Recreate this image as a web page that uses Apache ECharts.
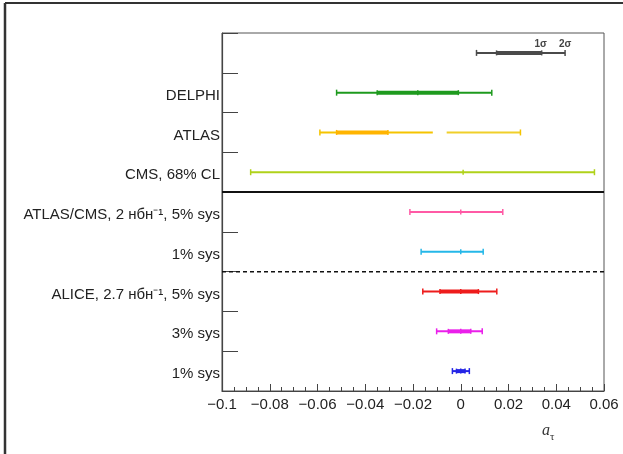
<!DOCTYPE html>
<html>
<head>
<meta charset="utf-8">
<script src="https://cdn.jsdelivr.net/npm/echarts@6/dist/echarts.min.js"></script>
<style>
html,body{margin:0;padding:0;background:#fff;}
#chart{width:623px;height:454px;}
</style>
</head>
<body>
<div id="chart"></div>
<script>
// ---- data ----
const categories = ['', 'DELPHI', 'ATLAS', 'CMS, 68% CL', 'ATLAS/CMS, 2 нбн⁻¹, 5% sys', '1% sys', 'ALICE, 2.7 нбн⁻¹, 5% sys', '3% sys', '1% sys'];
const outerLow  = [0.0066, -0.052, -0.059, -0.088, -0.0213, -0.0166, -0.0159, -0.0101, -0.0035];
const outerHigh = [0.0437,  0.013,  0.025,  0.056,  0.0176,  0.0094,  0.0151,  0.0090,  0.0036];
const innerLow  = [0.015, -0.035, -0.052, null, null, null, -0.0087, -0.0052, -0.0018];
const innerHigh = [0.0339, -0.001, -0.0305, null, null, null, 0.0074, 0.0042, 0.0018];
const centralValue = [null, -0.018, null, 0.001, 0, 0, 0, 0, 0];
const atlasGap = [-0.0117, -0.0059];       // excluded region inside ATLAS interval (row 2)
const legendLabels = ['1σ', '2σ'];
const separatorAfterRow = [3, 5];           // solid after CMS, dashed after 1% sys
const xTickMin = -0.1, xTickMax = 0.06, xTickStep = 0.02;

const rowColors = ['#4a4a4a', '#1e9a1e', '#f5c400', '#b0d21a', '#ff5aa5', '#25b7e8', '#ee1c1c', '#ea1fea', '#2424e6'];
const innerColors = ['#4a4a4a', '#1e9a1e', '#ffb400', '#b0d21a', '#ff5aa5', '#25b7e8', '#ee1c1c', '#ea1fea', '#2424e6'];

const chart = echarts.init(document.getElementById('chart'), null, {renderer: 'canvas'});

function barItem(params, api) {
  const row = api.value(2);
  const lo = api.value(0), hi = api.value(1);
  const band = api.size([0, 1])[1];
  const col = rowColors[row];
  const children = [];
  const p1 = api.coord([lo, row]);
  const y = p1[1];
  const capH = 3;
  const lw = 2;
  function seg(a, b, w, c) {
    const pa = api.coord([a, row]), pb = api.coord([b, row]);
    children.push({type: 'line', shape: {x1: pa[0], y1: y, x2: pb[0], y2: y}, style: {stroke: c, lineWidth: w}});
  }
  function cap(v, c, h) {
    const p = api.coord([v, row]);
    children.push({type: 'line', shape: {x1: p[0], y1: y - h, x2: p[0], y2: y + h}, style: {stroke: c, lineWidth: 1.5}});
  }
  if (row === 2) {
    seg(lo, atlasGap[0], lw, col);
    seg(atlasGap[1], hi, lw, '#f0cf2a');
  } else {
    seg(lo, hi, lw, col);
  }
  if (innerLow[row] != null) {
    seg(innerLow[row], innerHigh[row], 4, innerColors[row]);
    cap(innerLow[row], innerColors[row], 2.5);
    cap(innerHigh[row], innerColors[row], 2.5);
  }
  cap(lo, col, capH);
  cap(hi, col, capH);
  if (centralValue[row] != null) {
    cap(centralValue[row], col, 2.5);
  }
  if (row === 0) {
    const pa = api.coord([innerHigh[0], row]);
    const pb = api.coord([outerHigh[0], row]);
    children.push({type: 'text', style: {text: legendLabels[0], x: pa[0] - 1, y: y - 9, fill: '#444', font: 'bold 10px "Liberation Sans"', align: 'center', verticalAlign: 'middle', textAlign: 'center', textVerticalAlign: 'middle'}});
    children.push({type: 'text', style: {text: legendLabels[1], x: pb[0], y: y - 9, fill: '#444', font: 'bold 10px "Liberation Sans"', align: 'center', verticalAlign: 'middle', textAlign: 'center', textVerticalAlign: 'middle'}});
  }
  // separators
  const sepIdx = separatorAfterRow.indexOf(row);
  if (sepIdx >= 0) {
    const xl = api.coord([xTickMin, row])[0];
    const xr = api.coord([xTickMax, row])[0];
    const ys = y + band / 2;
    children.push({type: 'line', shape: {x1: xl, y1: ys, x2: xr, y2: ys},
      style: sepIdx === 0 ? {stroke: '#111', lineWidth: 2} : {stroke: '#111', lineWidth: 1.5, lineDash: [4, 3]}});
  }
  return {type: 'group', children: children};
}

const option = {
  animation: false,
  backgroundColor: '#fff',
  grid: {left: 222, right: 19, top: 33, bottom: 63, show: true, borderColor: '#555', borderWidth: 1, backgroundColor: 'transparent'},
  xAxis: {
    type: 'value', min: xTickMin, max: xTickMax, interval: xTickStep,
    axisLine: {show: true, onZero: false, lineStyle: {color: '#444', width: 1.2}},
    axisTick: {show: true, inside: true, length: 7, lineStyle: {color: '#444'}},
    minorTick: {show: true, splitNumber: 4, length: 4, lineStyle: {color: '#444'}},
    splitLine: {show: false},
    axisLabel: {
      show: true, showMinLabel: true, showMaxLabel: true, margin: 6,
      fontFamily: 'Liberation Sans', fontSize: 15, color: '#222',
      formatter: v => { const n = +(+v).toFixed(3); return n === 0 ? '0' : String(n).replace('-', '−'); }
    }
  },
  yAxis: {
    type: 'category', inverse: true, data: categories,
    axisLine: {show: true, onZero: false, lineStyle: {color: '#444', width: 1.2}},
    axisTick: {show: true, inside: true, length: 16, lineStyle: {color: '#444'}},
    splitLine: {show: false},
    axisLabel: {
      margin: 2, fontFamily: 'Liberation Sans', fontSize: 15, color: '#222',
      formatter: v => v ? '{l|' + v + '}' : '',
      rich: {l: {fontFamily: 'Liberation Sans', fontSize: 15, color: '#222', padding: [6, 0, 0, 0]}}
    }
  },
  graphic: [
    {type: 'line', shape: {x1: 5, y1: 3, x2: 623, y2: 3}, style: {stroke: '#333', lineWidth: 2}},
    {type: 'line', shape: {x1: 5, y1: 3, x2: 5, y2: 454}, style: {stroke: '#333', lineWidth: 2.5}},
    {type: 'text', left: 542, top: 423, style: {
      text: '{a|a}{t|τ}',
      rich: {
        a: {fontFamily: 'Liberation Serif', fontStyle: 'italic', fontSize: 16, fill: '#333', verticalAlign: 'top'},
        t: {fontFamily: 'Liberation Serif', fontSize: 11, fill: '#333', verticalAlign: 'bottom', padding: [9, 0, 0, 0]}
      }
    }}
  ],
  series: [{
    type: 'custom',
    coordinateSystem: 'cartesian2d',
    clip: false,
    renderItem: barItem,
    encode: {x: [0, 1], y: 2},
    data: categories.map((c, i) => [outerLow[i], outerHigh[i], i])
  }]
};
chart.setOption(option);
</script>
</body>
</html>
